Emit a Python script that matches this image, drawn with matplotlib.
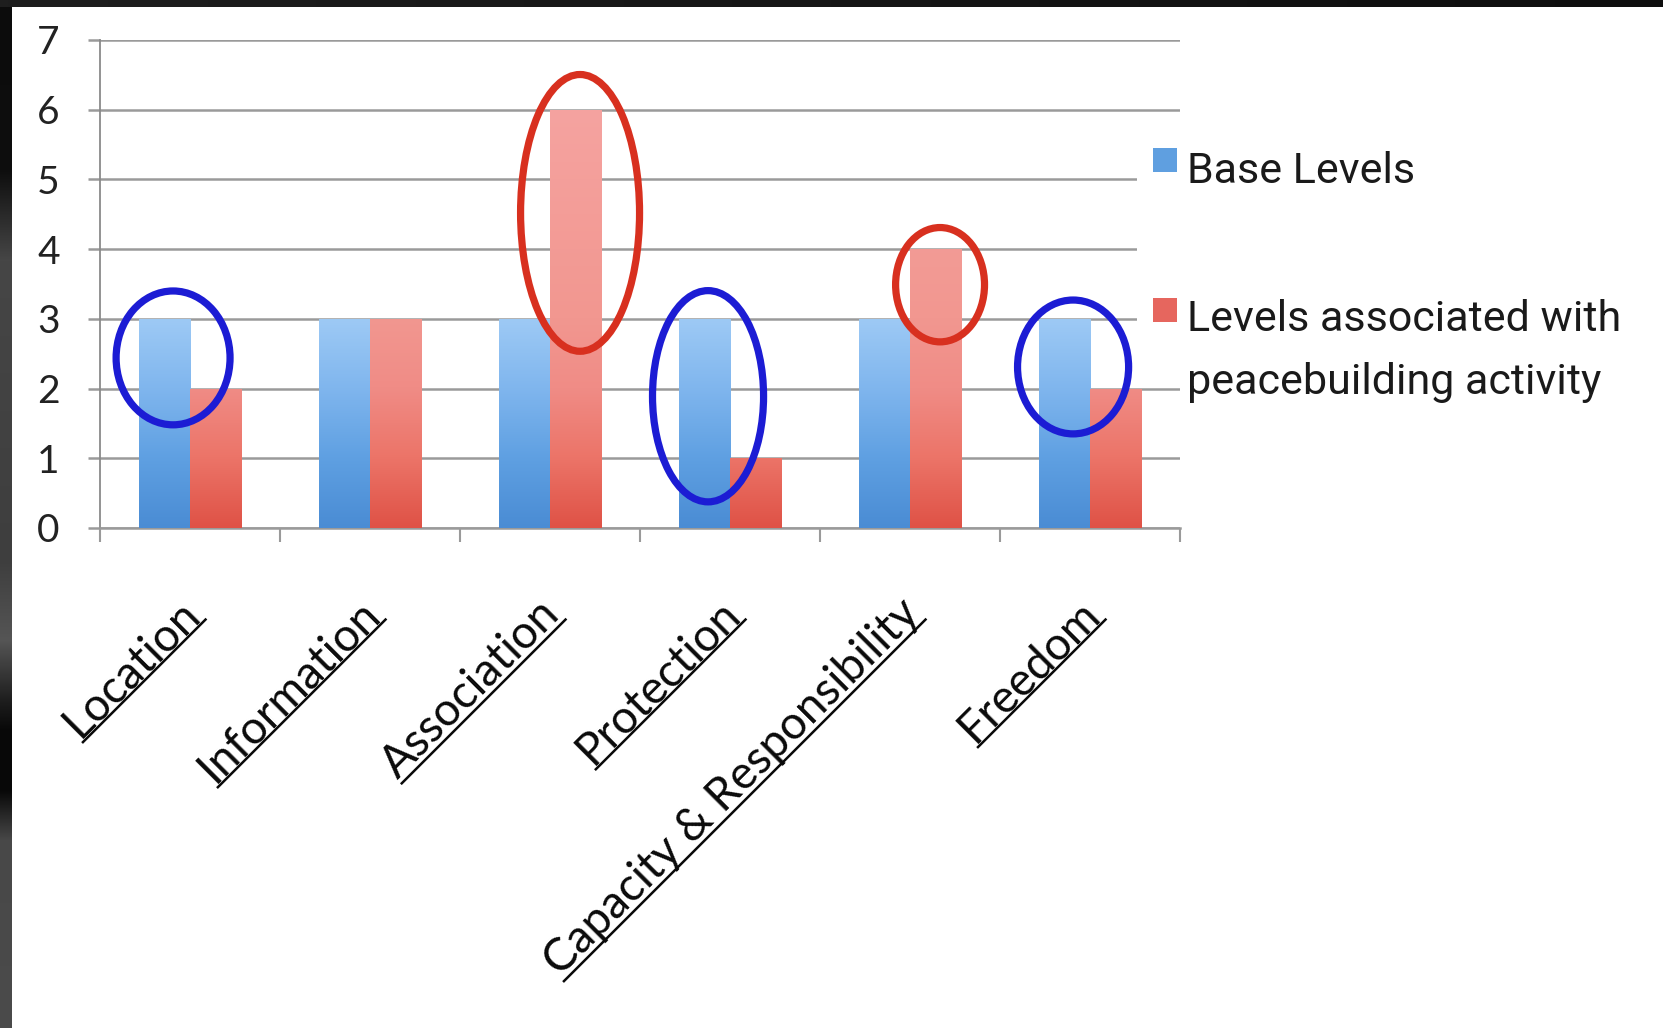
import numpy as np
import matplotlib
matplotlib.use("Agg")
import matplotlib.pyplot as plt
from matplotlib.patches import Ellipse, Rectangle
from matplotlib.colors import to_rgb
from matplotlib.lines import Line2D
from matplotlib.transforms import offset_copy

categories = ["Location", "Information", "Association", "Protection",
              "Capacity & Responsibility", "Freedom"]
base_levels = [3, 3, 3, 3, 3, 3]
peace_levels = [2, 3, 6, 1, 4, 2]
y_ticks = [0, 1, 2, 3, 4, 5, 6, 7]
legend_labels = ["Base Levels", "Levels associated with", "peacebuilding activity"]

# hand-drawn rings: category, shift from group centre, centre height, size, colour
ring_cat = [0, 2, 3, 4, 5]
ring_dx = [-0.094, 0.167, -0.122, 0.167, -0.094]
ring_cy = [2.44, 4.52, 1.89, 3.49, 2.31]
ring_w = [0.633, 0.661, 0.617, 0.494, 0.617]
ring_h = [1.92, 3.97, 3.03, 1.64, 1.92]
ring_color = ["#1c1cd4", "#d8301f", "#1c1cd4", "#d8301f", "#1c1cd4"]

W, H = 1663, 1028
fig = plt.figure(figsize=(W / 100, H / 100), dpi=100)
fig.patch.set_facecolor("white")

ax = fig.add_axes([100 / W, 1 - 528 / H, 1080 / W, 488 / H])
grid_col = "#9a9a9a"
label_size = 33


def gradient_fill(ax, bars, stops_y, stops_c):
    # vertical shading inside each bar, clipped to the bar outline
    ys = np.linspace(0, 7, 300)
    rgb = np.array([to_rgb(c) for c in stops_c])
    img = np.stack([np.interp(ys, stops_y, rgb[:, k]) for k in range(3)], axis=-1)[:, None, :]
    for b in bars:
        im = ax.imshow(img, extent=(b.get_x(), b.get_x() + b.get_width(), 0, 7),
                       origin="lower", aspect="auto", interpolation="bilinear", zorder=3)
        im.set_clip_path(b)


x = np.arange(len(categories))
bw = 0.286
blue_bars = ax.bar(x - bw / 2, base_levels, bw, color="#6aa8e6", linewidth=0, zorder=2)
red_bars = ax.bar(x + bw / 2, peace_levels, bw, color="#ec7a70", linewidth=0, zorder=2)
gradient_fill(ax, blue_bars, [0, 1, 2, 3, 7], ["#4a8cd4", "#5fa0e2", "#80b6ee", "#9ecaf5", "#a8d0f8"])
gradient_fill(ax, red_bars, [0, 1, 2, 3, 6, 7], ["#df5246", "#ec7468", "#f08c86", "#f29790", "#f5a3a0", "#f6a8a4"])

for c, dx, cy, w, h, col in zip(ring_cat, ring_dx, ring_cy, ring_w, ring_h, ring_color):
    ax.add_patch(Ellipse((c + dx, cy), w, h, fill=False, edgecolor=col, linewidth=5.2, zorder=6))

ax.set_xlim(-0.5, len(categories) - 0.5)
ax.set_ylim(0, 7)
ax.set_yticks(y_ticks)
ax.set_yticklabels([str(v) for v in y_ticks], family="Lato", fontsize=28, color="#222222")
ax.yaxis.grid(True, color=grid_col, linewidth=1.8)
ax.set_axisbelow(True)
ax.tick_params(axis="y", length=9, width=1.8, color=grid_col, pad=20)

ax.set_xticks(x)
ax.set_xticklabels([])
ax.set_xticks(np.arange(-0.5, len(categories)), minor=True)
ax.tick_params(axis="x", which="major", length=0)
ax.tick_params(axis="x", which="minor", length=10, width=1.5, color=grid_col)

for side in ["top", "right"]:
    ax.spines[side].set_visible(False)
ax.spines["left"].set_color("#8a8a8a")
ax.spines["left"].set_linewidth(1.3)
ax.spines["bottom"].set_color(grid_col)
ax.spines["bottom"].set_linewidth(1.8)

# rotated, underlined category names
label_tr = offset_copy(ax.transData, fig=fig, x=12, y=-88, units="dots")
label_texts = []
for i, name in enumerate(categories):
    t = ax.text(i, 0, name, transform=label_tr, rotation=45, rotation_mode="anchor",
                ha="right", va="baseline", family="Lato", fontsize=label_size, color="#0a0a0a")
    label_texts.append(t)

# legend drawn by hand so it can sit over the gridlines
fig.add_artist(Rectangle((1137 / W, 1 - 365 / H), 500 / W, 235 / H, transform=fig.transFigure,
                         facecolor="white", edgecolor="none", zorder=5))
leg_font = "Roboto"
fig.add_artist(Rectangle((1153 / W, 1 - 172 / H), 24 / W, 24 / H, transform=fig.transFigure,
                         facecolor="#5f9fe0", edgecolor="none", zorder=6))
fig.add_artist(Rectangle((1153 / W, 1 - 322 / H), 24 / W, 24 / H, transform=fig.transFigure,
                         facecolor="#e6665e", edgecolor="none", zorder=6))
for txt, base_y in zip(legend_labels, [183, 331, 394]):
    fig.text(1187 / W, 1 - base_y / H, txt, family=leg_font, fontsize=31,
             color="#1a1a1a", va="baseline", ha="left", zorder=7)

# dark frame along the top and left edges
left = fig.add_axes([0, 0, 12 / W, 1])
ys = np.arange(H)
g = np.interp(ys, [0, 170, 260, 560, 640, 700, 730, 790, 840, 1028],
              [12, 14, 70, 62, 85, 30, 8, 8, 72, 75]) / 255
left.imshow(np.repeat(g[:, None, None], 3, axis=2), aspect="auto", extent=(0, 1, H, 0))
left.set_axis_off()
top = fig.add_axes([0, 1 - 7 / H, 1, 7 / H])
gx = np.linspace(30, 14, 200) / 255
top.imshow(np.repeat(gx[None, :, None], 3, axis=2), aspect="auto")
top.set_axis_off()

fig.canvas.draw()
renderer = fig.canvas.get_renderer()
inv = fig.transFigure.inverted()
u = np.array([np.cos(np.pi / 4), np.sin(np.pi / 4)])
n = np.array([u[1], -u[0]])
for i, t in enumerate(label_texts):
    probe = fig.text(0, 0, t.get_text(), family="Lato", fontsize=label_size)
    L = probe.get_window_extent(renderer).width
    probe.remove()
    a = np.array(label_tr.transform((i, 0)))
    p0 = inv.transform(a - L * u + 5 * n)
    p1 = inv.transform(a + 5 * n)
    fig.add_artist(Line2D([p0[0], p1[0]], [p0[1], p1[1]], transform=fig.transFigure,
                          color="#0a0a0a", linewidth=1.8))

fig.savefig("out.png", dpi=100)
plt.close(fig)
